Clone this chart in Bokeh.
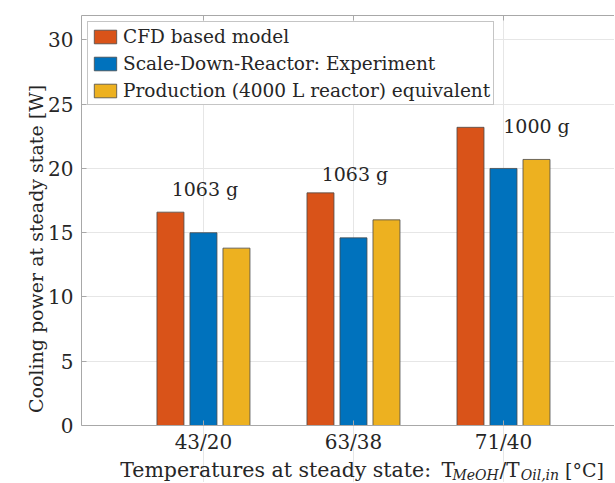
from bokeh.plotting import figure
from bokeh.models import (Range1d, FixedTicker, LinearAxis, Legend, LegendItem,
                          ColumnDataSource)
from bokeh.core.properties import value
from bokeh.embed import file_html
from bokeh.resources import INLINE

# ---- data ----
categories = ["43/20", "63/38", "71/40"]
cat_pos = [1, 2, 3]
cfd_model = [16.6, 18.1, 23.2]
experiment = [15.0, 14.6, 20.0]
production = [13.8, 16.0, 20.7]
mass_labels = ["1063 g", "1063 g", "1000 g"]
mass_label_x = [1.01, 2.01, 3.22]
mass_label_y = [18.4, 19.6, 23.3]
y_ticks = [0, 5, 10, 15, 20, 25, 30]
y_top = 31.9
series_names = ["CFD based model", "Scale-Down-Reactor: Experiment",
                "Production (4000 L reactor) equivalent"]
colors = ["#D95319", "#0072BD", "#EDB120"]

# x-axis title pieces (placed below the zero line, in value units)
xlabel_parts = ["Temperatures at steady state:", "T", "MeOH", "/T", "Oil,in", "[°C]"]
xlabel_x = [0.445, 2.587, 2.66, 2.973, 3.115, 3.41]
xlabel_size = ["20.5px", "20px", "14px", "20px", "14px", "19px"]
xlabel_style = ["normal", "normal", "italic", "normal", "italic", "normal"]
xlabel_y = [-3.48, -3.48, -3.83, -3.48, -3.83, -3.48]
cat_label_y = -1.245

FONT = "DejaVu Serif"
TXT = "#262626"
AX = "#a8a8a8"

FRAME_H = 467
PX_PER_UNIT = 410 / y_top
y_bottom = -(FRAME_H - 410) / PX_PER_UNIT

p = figure(frame_width=533, frame_height=FRAME_H, output_backend="svg",
           toolbar_location=None, x_range=Range1d(0.187, 3.74),
           y_range=Range1d(y_bottom, y_top),
           min_border_left=81, min_border_right=0, min_border_top=15,
           min_border_bottom=0)
p.outline_line_color = None

# grids (limited to the plotting box)
p.xgrid.ticker = FixedTicker(ticks=cat_pos)
p.ygrid.ticker = FixedTicker(ticks=y_ticks)
p.xgrid.bounds = (0, y_top)
p.xgrid.grid_line_color = "#e6e6e6"
p.ygrid.grid_line_color = "#e6e6e6"

# bars
offsets = [-0.22, 0.0, 0.22]
series = [cfd_model, experiment, production]
renderers = []
for vals, off, col in zip(series, offsets, colors):
    src = ColumnDataSource(dict(x=[c + off for c in cat_pos], top=vals))
    r = p.vbar(x="x", top="top", width=0.18, bottom=0, source=src,
               fill_color=col, line_color="#4a4a4a", line_width=0.8)
    renderers.append(r)

# mass annotations
tsrc = ColumnDataSource(dict(x=mass_label_x, y=mass_label_y, t=mass_labels))
p.text(x="x", y="y", text="t", source=tsrc, text_font=value(FONT),
       text_font_size="19px", text_color=TXT, text_align="center",
       text_baseline="middle")

# y axis
ya = p.yaxis[0]
ya.ticker = FixedTicker(ticks=y_ticks)
ya.bounds = (0, y_top)
ya.axis_line_color = AX
ya.major_tick_line_color = AX
ya.major_tick_in = 5
ya.major_tick_out = 0
ya.minor_tick_line_color = None
ya.major_label_text_font = FONT
ya.major_label_text_font_size = "20px"
ya.major_label_text_color = TXT
ya.major_label_standoff = 8
ya.axis_label = "Cooling power at steady state [W]"
ya.axis_label_text_font = FONT
ya.axis_label_text_font_size = "19px"
ya.axis_label_text_font_style = "normal"
ya.axis_label_text_color = TXT
ya.axis_label_standoff = -2

# bottom axis at y = 0: line and inward ticks only
xa = p.xaxis[0]
xa.fixed_location = 0
xa.ticker = FixedTicker(ticks=cat_pos)
xa.axis_line_color = AX
xa.major_tick_line_color = AX
xa.major_tick_in = 5
xa.major_tick_out = 0
xa.minor_tick_line_color = None
xa.major_label_overrides = {c: "" for c in cat_pos}
xa.major_label_text_font_size = "0px"
xa.major_label_standoff = 0

top_ax = LinearAxis(ticker=FixedTicker(ticks=cat_pos), axis_line_color=AX,
                    major_tick_line_color=AX, major_tick_in=5, major_tick_out=0,
                    minor_tick_line_color=None, major_label_text_font_size="0px",
                    major_label_overrides={c: "" for c in cat_pos},
                    major_label_standoff=0)
p.add_layout(top_ax, "above")

# category labels
p.text(x=cat_pos, y=[cat_label_y] * len(cat_pos), text=categories,
       text_font=value(FONT), text_font_size="20px", text_color=TXT,
       text_align="center", text_baseline="middle")

# x-axis title
for t, xx, yy, fs, st in zip(xlabel_parts, xlabel_x, xlabel_y, xlabel_size, xlabel_style):
    p.text(x=[xx], y=[yy], text=[t], text_font=value(FONT), text_font_size=fs,
           text_font_style=st, text_color=TXT, text_align="left",
           text_baseline="middle")

# legend
items = [LegendItem(label=n, renderers=[r]) for n, r in zip(series_names, renderers)]
leg = Legend(items=items, location="top_left", margin=6, padding=3,
             glyph_width=28, glyph_height=17, label_height=22, spacing=5,
             label_standoff=4, label_text_font=FONT, label_text_font_size="18.5px",
             label_text_color=TXT, border_line_color="#8c8c8c",
             background_fill_color="white", background_fill_alpha=1.0)
p.add_layout(leg, "center")

open("out.html", "w").write(file_html(p, INLINE))
